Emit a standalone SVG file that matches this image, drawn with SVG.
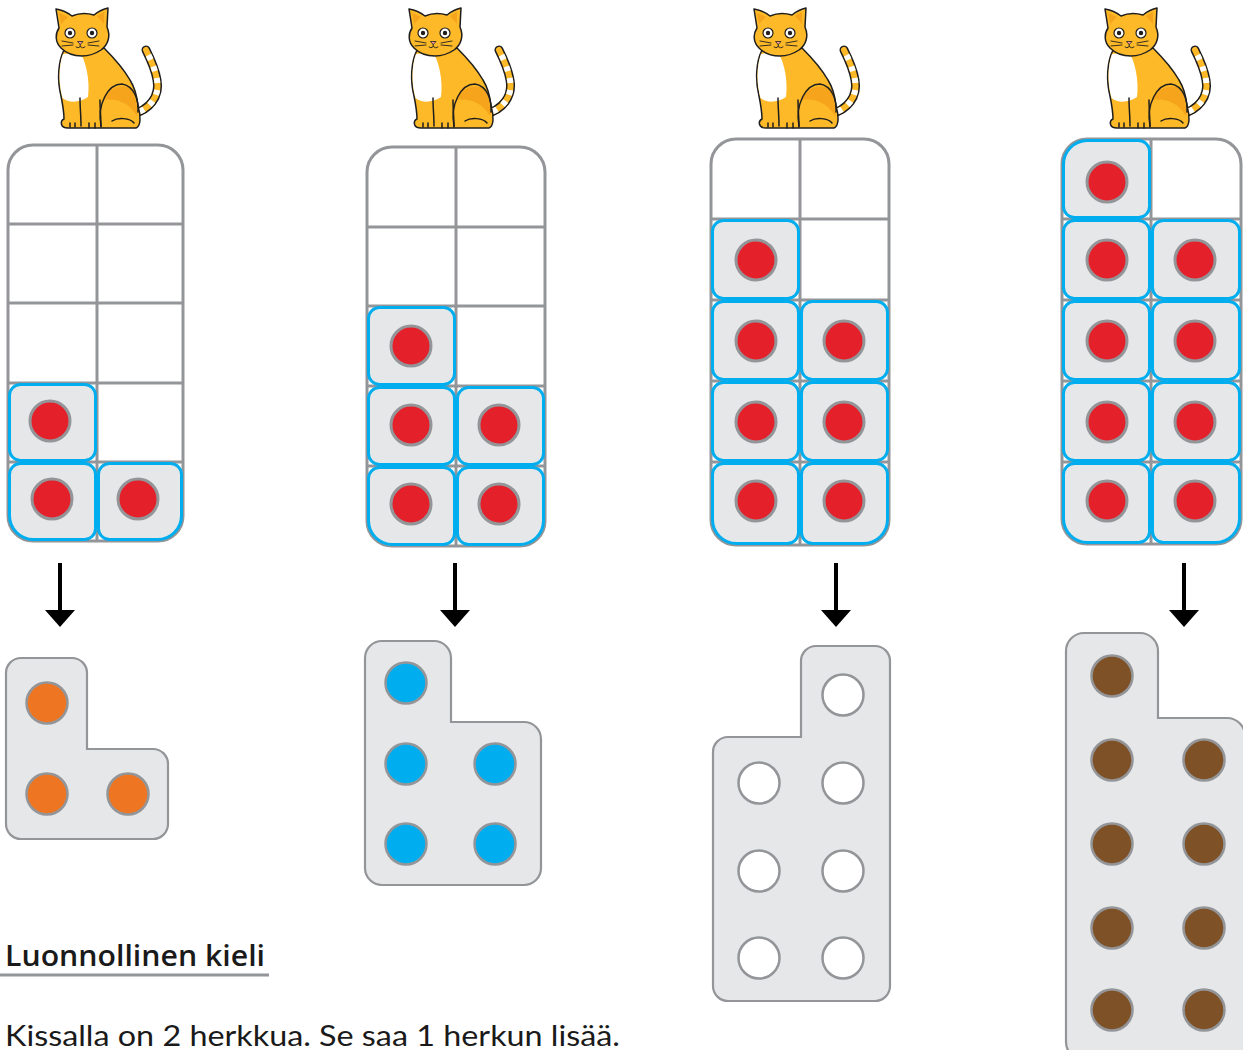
<svg xmlns="http://www.w3.org/2000/svg" xmlns:xlink="http://www.w3.org/1999/xlink" width="1243" height="1050" viewBox="0 0 1243 1050">
<style>
.frame{fill:#fff;stroke:#939598;stroke-width:3}
.gl{stroke:#939598;stroke-width:3;fill:none}
.tile{fill:#E6E7E8;stroke:#00AEEF;stroke-width:3}
.red{fill:#E4202B;stroke:#939598;stroke-width:3}
.piece{fill:#E6E7E8;stroke:#939598;stroke-width:2.2}
.dot{stroke:#939598;stroke-width:2.5}
.o{fill:#EE7623}.b{fill:#00AEEF}.w{fill:#fff}.br{fill:#7F5126}
.ol{stroke:#1e1e1e;stroke-width:1.5;stroke-linejoin:round;stroke-linecap:round}
.arr{stroke:#000;stroke-width:4}
.txt{font-family:Lato,"Liberation Sans",sans-serif;fill:#1a1a1a}
</style>
<defs>
<g id="cat">
<path d="M132,114 C150,110 160,96 157,80 C155,68 150,58 146,50" fill="none" stroke="#1e1e1e" stroke-width="9" stroke-linecap="round"/>
<path d="M132,114 C150,110 160,96 157,80 C155,68 150,58 146,50" fill="none" stroke="#FDB927" stroke-width="6" stroke-linecap="round"/>
<path d="M132,114 C150,110 160,96 157,80 C155,68 150,58 146,50" fill="none" stroke="#fff" stroke-width="6" stroke-dasharray="5 7" stroke-dashoffset="-8"/>
<path class="ol" fill="#FDB927" d="M64,50 C58,62 57,80 61,96 C63,106 64,114 64,119 C60,121 60,128 68,128 L136,128 C141,126 141,116 138,106 C137,96 135,88 130,80 C122,66 112,56 104,48 Z"/>
<path fill="#F6A41C" d="M104,100 C108,88 120,84 130,88 C136,96 138,106 137,116 C130,104 118,98 104,100 Z"/>
<path fill="#fff" d="M63,54 C58.5,66 58.5,84 62.5,98 C70,104 80,102 88,97 C90,80 86,64 82,56 C75,53 68,53 63,54 Z"/>
<path class="ol" fill="none" d="M101,126 C97,104 108,84 122,84 C134,86 139,100 138,112"/>
<path class="ol" fill="none" d="M80,98 C80,108 81,116 81,126 M100,100 C100,110 101,118 101,127 M70,123 L70,127 M75,123 L75,127 M89,123 L89,128 M95,123 L95,128 M112,121 C118,117 130,118 134,123"/>
<path class="ol" fill="#FDB927" d="M59,28 L56,9 C62,10 67,12 72,16 C79,13 87,13 94,15 C99,11 103,9 108,8 L107,27 C111,36 108,45 101,50 C95,54 88,56 82,56 C74,56 66,53 61,48 C55,42 55,34 59,28 Z"/>
<path fill="#F6A41C" d="M59,13 L61,24 L68,17 Z M104,12 L104,24 L97,16 Z"/>
<circle cx="70" cy="33" r="5" fill="#fff" stroke="#1e1e1e" stroke-width="1.2"/>
<circle cx="92" cy="33" r="5" fill="#fff" stroke="#1e1e1e" stroke-width="1.2"/>
<circle cx="70" cy="33" r="2.2" fill="#1e1e1e"/>
<circle cx="92" cy="33" r="2.2" fill="#1e1e1e"/>
<path d="M77.5,41.5 L83,41.5 L80.2,44.5 Z" fill="#F5A0AA" stroke="#1e1e1e" stroke-width="0.8"/>
<path d="M80.2,44.5 V46.5 M76,47 Q78,49 80.2,46.5 Q82.5,49 85,47 M73,43 L62,41 M73,45 L62,46 M88,43 L99,41 M88,45 L99,46" fill="none" stroke="#1e1e1e" stroke-width="0.9" stroke-linecap="round"/>
</g>
</defs>

<g id="cat1"><use xlink:href="#cat"/></g>
<g id="cat2"><use xlink:href="#cat" transform="translate(353,0)"/></g>
<g id="cat3"><use xlink:href="#cat" transform="translate(698,0)"/></g>
<g id="cat4"><use xlink:href="#cat" transform="translate(1049,0)"/></g>

<g id="grid1">
<rect class="frame" x="8" y="145" width="175" height="396" rx="25"/>
<path class="gl" d="M97,145 V541 M8,224 H183 M8,303 H183 M8,383 H183 M8,462 H183"/>
<rect class="tile" x="9.5" y="384.5" width="86" height="76" rx="11"/>
<path class="tile" d="M20.5,463.5 H84.5 A11 11 0 0 1 95.5,474.5 V528.5 A11 11 0 0 1 84.5,539.5 H33.5 A24 24 0 0 1 9.5,515.5 V474.5 A11 11 0 0 1 20.5,463.5 Z"/>
<path class="tile" d="M109.5,463.5 H170.5 A11 11 0 0 1 181.5,474.5 V515.5 A24 24 0 0 1 157.5,539.5 H109.5 A11 11 0 0 1 98.5,528.5 V474.5 A11 11 0 0 1 109.5,463.5 Z"/>
<circle class="red" cx="50" cy="421" r="20"/>
<circle class="red" cx="52" cy="499" r="20"/>
<circle class="red" cx="138" cy="499" r="20"/>
</g>

<g id="grid2">
<rect class="frame" x="367" y="147" width="178" height="399" rx="25"/>
<path class="gl" d="M456,147 V546 M367,227 H545 M367,306 H545 M367,386 H545 M367,466 H545"/>
<rect class="tile" x="368.5" y="307.5" width="86" height="77" rx="11"/>
<rect class="tile" x="368.5" y="387.5" width="86" height="77" rx="11"/>
<rect class="tile" x="457.5" y="387.5" width="86" height="77" rx="11"/>
<path class="tile" d="M379.5,467.5 H443.5 A11 11 0 0 1 454.5,478.5 V533.5 A11 11 0 0 1 443.5,544.5 H392.5 A24 24 0 0 1 368.5,520.5 V478.5 A11 11 0 0 1 379.5,467.5 Z"/>
<path class="tile" d="M468.5,467.5 H532.5 A11 11 0 0 1 543.5,478.5 V520.5 A24 24 0 0 1 519.5,544.5 H468.5 A11 11 0 0 1 457.5,533.5 V478.5 A11 11 0 0 1 468.5,467.5 Z"/>
<circle class="red" cx="411" cy="346" r="20"/>
<circle class="red" cx="411" cy="425" r="20"/>
<circle class="red" cx="499" cy="425" r="20"/>
<circle class="red" cx="411" cy="504" r="20"/>
<circle class="red" cx="499" cy="504" r="20"/>
</g>

<g id="grid3">
<rect class="frame" x="711" y="139" width="178" height="406" rx="25"/>
<path class="gl" d="M800,139 V545 M711,219 H889 M711,300 H889 M711,381 H889 M711,462 H889"/>
<rect class="tile" x="712.5" y="220.5" width="86" height="78" rx="11"/>
<rect class="tile" x="712.5" y="301.5" width="86" height="78" rx="11"/>
<rect class="tile" x="801.5" y="301.5" width="86" height="78" rx="11"/>
<rect class="tile" x="712.5" y="382.5" width="86" height="78" rx="11"/>
<rect class="tile" x="801.5" y="382.5" width="86" height="78" rx="11"/>
<path class="tile" d="M723.5,463.5 H787.5 A11 11 0 0 1 798.5,474.5 V532.5 A11 11 0 0 1 787.5,543.5 H736.5 A24 24 0 0 1 712.5,519.5 V474.5 A11 11 0 0 1 723.5,463.5 Z"/>
<path class="tile" d="M812.5,463.5 H876.5 A11 11 0 0 1 887.5,474.5 V519.5 A24 24 0 0 1 863.5,543.5 H812.5 A11 11 0 0 1 801.5,532.5 V474.5 A11 11 0 0 1 812.5,463.5 Z"/>
<circle class="red" cx="756" cy="260" r="20"/>
<circle class="red" cx="756" cy="341" r="20"/>
<circle class="red" cx="844" cy="341" r="20"/>
<circle class="red" cx="756" cy="422" r="20"/>
<circle class="red" cx="844" cy="422" r="20"/>
<circle class="red" cx="756" cy="501" r="20"/>
<circle class="red" cx="844" cy="501" r="20"/>
</g>

<g id="grid4">
<rect class="frame" x="1062" y="139" width="179" height="405" rx="25"/>
<path class="gl" d="M1151,139 V544 M1062,219 H1241 M1062,300 H1241 M1062,381 H1241 M1062,462 H1241"/>
<path class="tile" d="M1087.5,140.5 H1138.5 A11 11 0 0 1 1149.5,151.5 V206.5 A11 11 0 0 1 1138.5,217.5 H1074.5 A11 11 0 0 1 1063.5,206.5 V164.5 A24 24 0 0 1 1087.5,140.5 Z"/>
<rect class="tile" x="1063.5" y="220.5" width="86" height="78" rx="11"/>
<rect class="tile" x="1152.5" y="220.5" width="87" height="78" rx="11"/>
<rect class="tile" x="1063.5" y="301.5" width="86" height="78" rx="11"/>
<rect class="tile" x="1152.5" y="301.5" width="87" height="78" rx="11"/>
<rect class="tile" x="1063.5" y="382.5" width="86" height="78" rx="11"/>
<rect class="tile" x="1152.5" y="382.5" width="87" height="78" rx="11"/>
<path class="tile" d="M1074.5,463.5 H1138.5 A11 11 0 0 1 1149.5,474.5 V531.5 A11 11 0 0 1 1138.5,542.5 H1087.5 A24 24 0 0 1 1063.5,518.5 V474.5 A11 11 0 0 1 1074.5,463.5 Z"/>
<path class="tile" d="M1163.5,463.5 H1228.5 A11 11 0 0 1 1239.5,474.5 V518.5 A24 24 0 0 1 1215.5,542.5 H1163.5 A11 11 0 0 1 1152.5,531.5 V474.5 A11 11 0 0 1 1163.5,463.5 Z"/>
<circle class="red" cx="1107" cy="182" r="20"/>
<circle class="red" cx="1107" cy="260" r="20"/>
<circle class="red" cx="1195" cy="260" r="20"/>
<circle class="red" cx="1107" cy="341" r="20"/>
<circle class="red" cx="1195" cy="341" r="20"/>
<circle class="red" cx="1107" cy="422" r="20"/>
<circle class="red" cx="1195" cy="422" r="20"/>
<circle class="red" cx="1107" cy="501" r="20"/>
<circle class="red" cx="1195" cy="501" r="20"/>
</g>

<g id="connectors">
<line class="arr" x1="60" y1="563" x2="60" y2="612"/><polygon points="45,610 75,610 60,627"/>
<line class="arr" x1="455" y1="563" x2="455" y2="612"/><polygon points="440,610 470,610 455,627"/>
<line class="arr" x1="836" y1="563" x2="836" y2="612"/><polygon points="821,610 851,610 836,627"/>
<line class="arr" x1="1184" y1="563" x2="1184" y2="612"/><polygon points="1169,610 1199,610 1184,627"/>
</g>

<g id="piece1">
<path class="piece" d="M21,658 H72 A15 15 0 0 1 87,673 V749 H153 A15 15 0 0 1 168,764 V824 A15 15 0 0 1 153,839 H21 A15 15 0 0 1 6,824 V673 A15 15 0 0 1 21,658 Z"/>
<circle class="dot o" cx="47" cy="703" r="20.5"/>
<circle class="dot o" cx="47" cy="794" r="20.5"/>
<circle class="dot o" cx="128" cy="794" r="20.5"/>
</g>

<g id="piece2">
<path class="piece" d="M382,641 H434 A17 17 0 0 1 451,658 V722 H524 A17 17 0 0 1 541,739 V868 A17 17 0 0 1 524,885 H382 A17 17 0 0 1 365,868 V658 A17 17 0 0 1 382,641 Z"/>
<circle class="dot b" cx="406" cy="683" r="20.5"/>
<circle class="dot b" cx="406" cy="764" r="20.5"/>
<circle class="dot b" cx="495" cy="764" r="20.5"/>
<circle class="dot b" cx="406" cy="844" r="20.5"/>
<circle class="dot b" cx="495" cy="844" r="20.5"/>
</g>

<g id="piece3">
<path class="piece" d="M816,646 H875 A15 15 0 0 1 890,661 V986 A15 15 0 0 1 875,1001 H728 A15 15 0 0 1 713,986 V752 A15 15 0 0 1 728,737 H801 V661 A15 15 0 0 1 816,646 Z"/>
<circle class="dot w" cx="843" cy="695" r="20.5"/>
<circle class="dot w" cx="759" cy="783" r="20.5"/>
<circle class="dot w" cx="843" cy="783" r="20.5"/>
<circle class="dot w" cx="759" cy="871" r="20.5"/>
<circle class="dot w" cx="843" cy="871" r="20.5"/>
<circle class="dot w" cx="759" cy="958" r="20.5"/>
<circle class="dot w" cx="843" cy="958" r="20.5"/>
</g>

<g id="piece4">
<path class="piece" d="M1084,633 H1140 A18 18 0 0 1 1158,651 V718 H1227 A18 18 0 0 1 1245,736 V1060 H1084 A18 18 0 0 1 1066,1042 V651 A18 18 0 0 1 1084,633 Z"/>
<circle class="dot br" cx="1112" cy="676" r="20.5"/>
<circle class="dot br" cx="1112" cy="760" r="20.5"/>
<circle class="dot br" cx="1204" cy="760" r="20.5"/>
<circle class="dot br" cx="1112" cy="844" r="20.5"/>
<circle class="dot br" cx="1204" cy="844" r="20.5"/>
<circle class="dot br" cx="1112" cy="928" r="20.5"/>
<circle class="dot br" cx="1204" cy="928" r="20.5"/>
<circle class="dot br" cx="1112" cy="1010" r="20.5"/>
<circle class="dot br" cx="1204" cy="1010" r="20.5"/>
</g>

<g id="texts">
<text x="5" y="966" font-family="'Open Sans',Lato,'Liberation Sans',sans-serif" fill="#1a1a1a" font-size="29" font-weight="600" textLength="260" lengthAdjust="spacingAndGlyphs">Luonnollinen kieli</text>
<line x1="0" y1="975" x2="269" y2="975" stroke="#939598" stroke-width="3"/>
<text class="txt" x="5" y="1046" font-size="29" textLength="615" lengthAdjust="spacingAndGlyphs">Kissalla on 2 herkkua. Se saa 1 herkun lisää.</text>
</g>
</svg>
